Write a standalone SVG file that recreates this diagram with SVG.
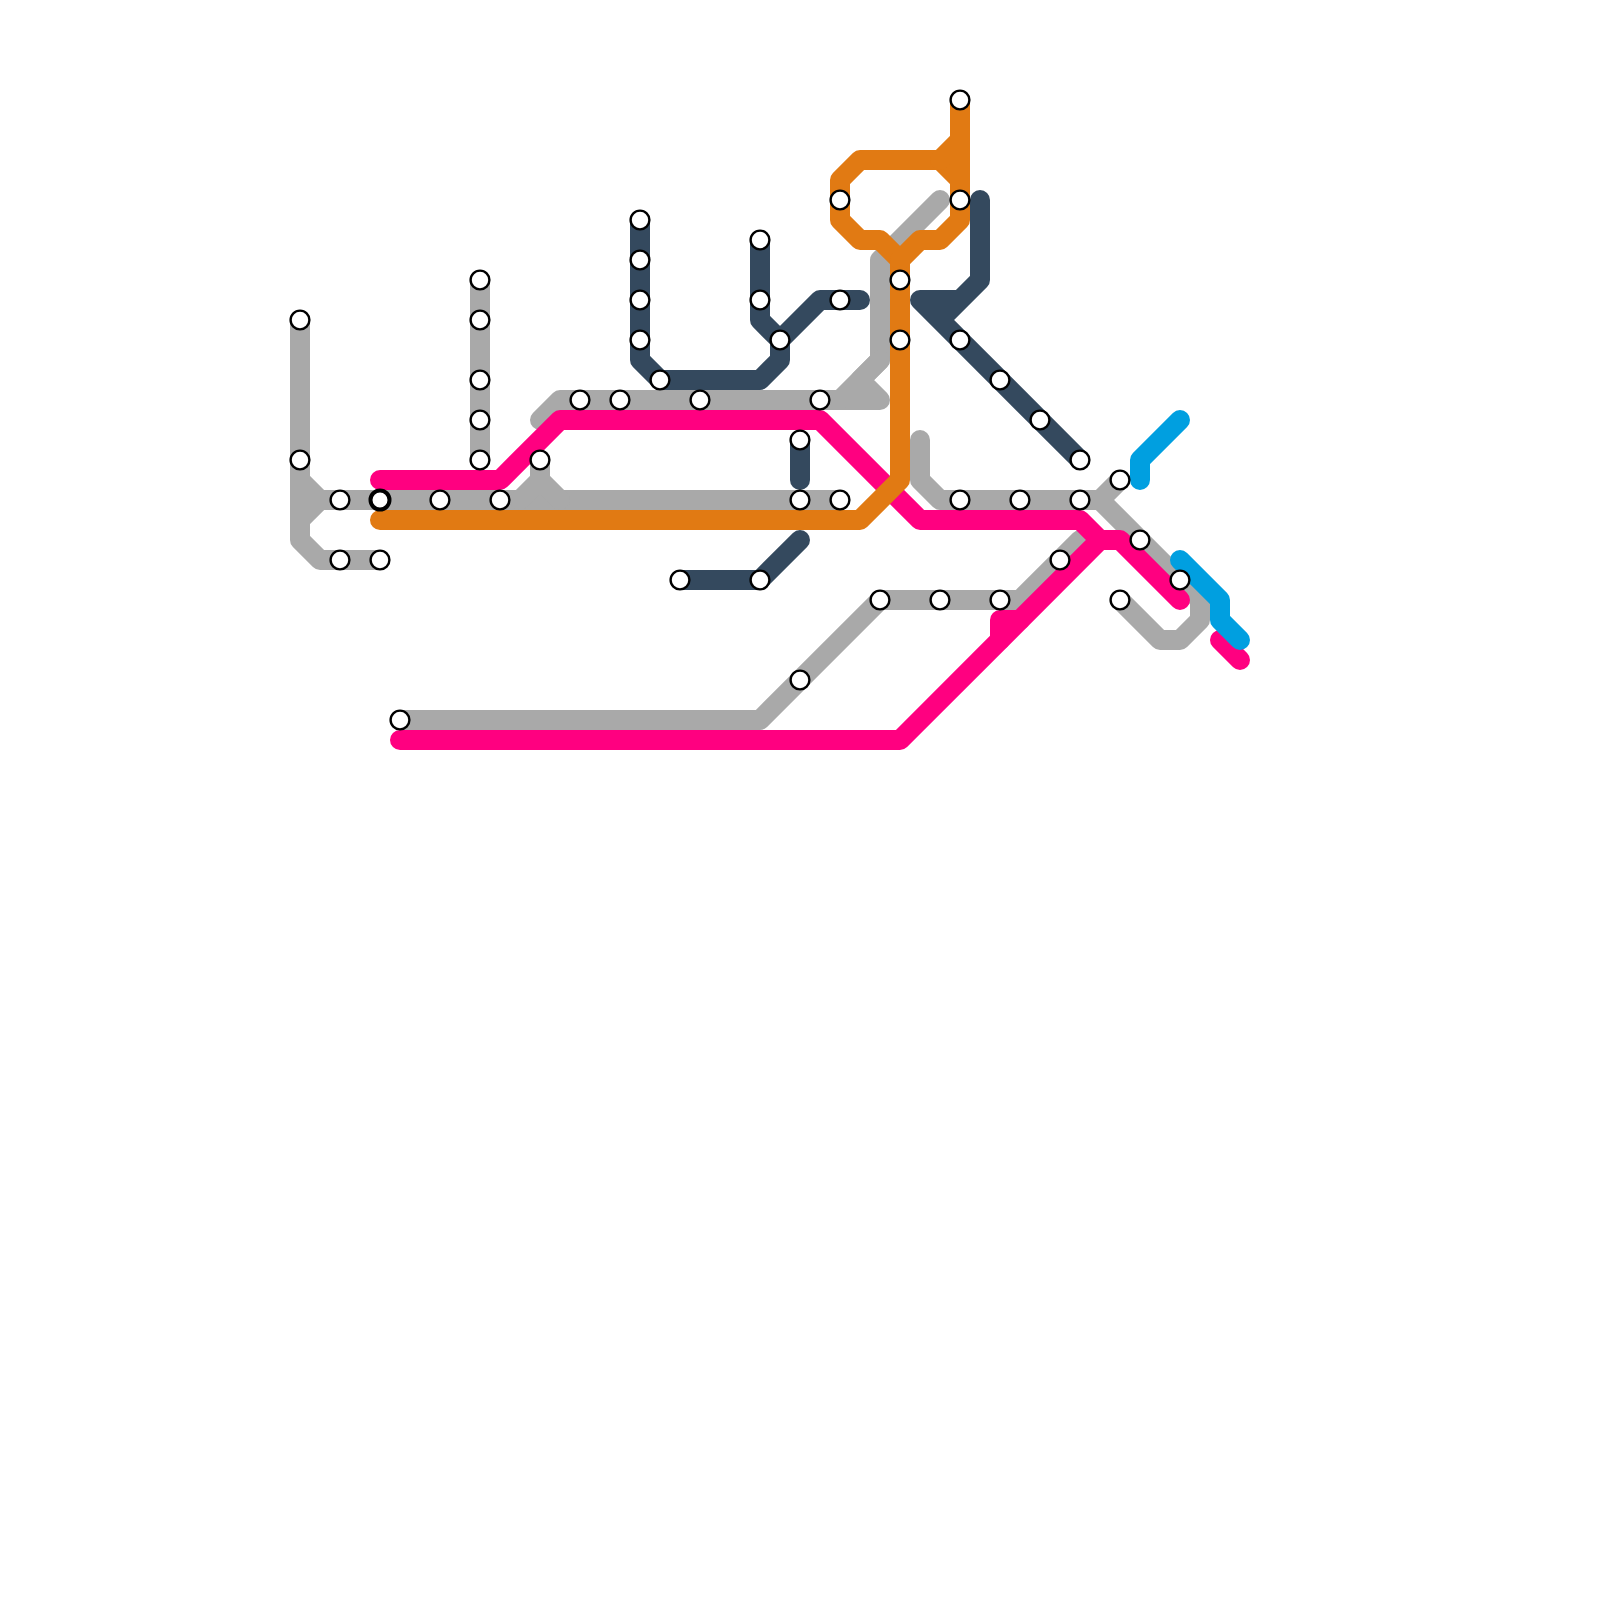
<svg xmlns="http://www.w3.org/2000/svg" width="1600" height="1600" viewBox="0 0 1600 1600">
<style>
.l{fill:none;stroke-width:20;stroke-linecap:round;stroke-linejoin:round}
.g{stroke:#a9a9a9}.n{stroke:#34495e}.p{stroke:#ff0080}.o{stroke:#e17a13}.b{stroke:#009fe0}
.s{fill:#fff;stroke:#000;stroke-width:2.4}
.t{fill:#fff;stroke:#000;stroke-width:4}
</style>
<rect width="1600" height="1600" fill="#fff"/>
<g id="connectors">
<path class="l g" d="M300 320V540L320 560H380M300 480L320 500L300 520M320 500H840"/>
<path class="l g" d="M480 280V460"/>
<path class="l g" d="M540 420L560 400H880L860 380L880 360V260L940 200"/>
<path class="l g" d="M840 400L880 360"/>
<path class="l g" d="M540 460V480L520 500M540 480L560 500"/>
<path class="l g" d="M920 440V480L940 500H1100"/>
<path class="l g" d="M1120 480L1100 500L1200 600V620L1180 640H1160L1120 600"/>
<path class="l g" d="M400 720H760L880 600H1020L1080 540"/>
<path class="l n" d="M640 220V360L660 380H760L780 360V340L760 320V240"/>
<path class="l n" d="M780 340L820 300H860"/>
<path class="l n" d="M800 440V480"/>
<path class="l n" d="M680 580H760L800 540"/>
<path class="l n" d="M980 200V280L940 320M960 300H920L1080 460"/>
<path class="l p" d="M380 480H500L560 420H820L920 520H1080L1100 540H1120L1180 600"/>
<path class="l p" d="M400 740H900L1100 540"/>
<path class="l p" d="M1000 640V620H1020"/>
<path class="l p" d="M1220 640L1240 660"/>
<path class="l o" d="M380 520H860L900 480V260L880 240H860L840 220V180L860 160H940L960 180"/>
<path class="l o" d="M960 100V220L940 240H920L900 260M960 140L940 160"/>
<path class="l b" d="M1180 420L1140 460V480"/>
<path class="l b" d="M1180 560L1220 600V620L1240 640"/>
</g>
<g id="n1"><circle class="s" cx="300" cy="320" r="9.4"/></g>
<g id="n2"><circle class="s" cx="300" cy="460" r="9.4"/></g>
<g id="n3"><circle class="s" cx="340" cy="500" r="9.4"/></g>
<g id="n4"><circle class="t" cx="380" cy="500" r="9.5"/></g>
<g id="n5"><circle class="s" cx="340" cy="560" r="9.4"/></g>
<g id="n6"><circle class="s" cx="380" cy="560" r="9.4"/></g>
<g id="n7"><circle class="s" cx="440" cy="500" r="9.4"/></g>
<g id="n8"><circle class="s" cx="500" cy="500" r="9.4"/></g>
<g id="n9"><circle class="s" cx="480" cy="280" r="9.4"/></g>
<g id="n10"><circle class="s" cx="480" cy="320" r="9.4"/></g>
<g id="n11"><circle class="s" cx="480" cy="380" r="9.4"/></g>
<g id="n12"><circle class="s" cx="480" cy="420" r="9.4"/></g>
<g id="n13"><circle class="s" cx="480" cy="460" r="9.4"/></g>
<g id="n14"><circle class="s" cx="540" cy="460" r="9.4"/></g>
<g id="n15"><circle class="s" cx="580" cy="400" r="9.4"/></g>
<g id="n16"><circle class="s" cx="620" cy="400" r="9.4"/></g>
<g id="n17"><circle class="s" cx="700" cy="400" r="9.4"/></g>
<g id="n18"><circle class="s" cx="820" cy="400" r="9.4"/></g>
<g id="n19"><circle class="s" cx="640" cy="220" r="9.4"/></g>
<g id="n20"><circle class="s" cx="640" cy="260" r="9.4"/></g>
<g id="n21"><circle class="s" cx="640" cy="300" r="9.4"/></g>
<g id="n22"><circle class="s" cx="640" cy="340" r="9.4"/></g>
<g id="n23"><circle class="s" cx="660" cy="380" r="9.4"/></g>
<g id="n24"><circle class="s" cx="760" cy="240" r="9.4"/></g>
<g id="n25"><circle class="s" cx="760" cy="300" r="9.4"/></g>
<g id="n26"><circle class="s" cx="780" cy="340" r="9.4"/></g>
<g id="n27"><circle class="s" cx="840" cy="300" r="9.4"/></g>
<g id="n28"><circle class="s" cx="800" cy="440" r="9.4"/></g>
<g id="n29"><circle class="s" cx="800" cy="500" r="9.4"/></g>
<g id="n30"><circle class="s" cx="840" cy="500" r="9.4"/></g>
<g id="n31"><circle class="s" cx="680" cy="580" r="9.4"/></g>
<g id="n32"><circle class="s" cx="760" cy="580" r="9.4"/></g>
<g id="n33"><circle class="s" cx="400" cy="720" r="9.4"/></g>
<g id="n34"><circle class="s" cx="800" cy="680" r="9.4"/></g>
<g id="n35"><circle class="s" cx="880" cy="600" r="9.4"/></g>
<g id="n36"><circle class="s" cx="940" cy="600" r="9.4"/></g>
<g id="n37"><circle class="s" cx="1000" cy="600" r="9.4"/></g>
<g id="n38"><circle class="s" cx="1060" cy="560" r="9.4"/></g>
<g id="n39"><circle class="s" cx="840" cy="200" r="9.4"/></g>
<g id="n40"><circle class="s" cx="960" cy="100" r="9.4"/></g>
<g id="n41"><circle class="s" cx="960" cy="200" r="9.4"/></g>
<g id="n42"><circle class="s" cx="900" cy="280" r="9.4"/></g>
<g id="n43"><circle class="s" cx="900" cy="340" r="9.4"/></g>
<g id="n44"><circle class="s" cx="960" cy="340" r="9.4"/></g>
<g id="n45"><circle class="s" cx="1000" cy="380" r="9.4"/></g>
<g id="n46"><circle class="s" cx="1040" cy="420" r="9.4"/></g>
<g id="n47"><circle class="s" cx="1080" cy="460" r="9.4"/></g>
<g id="n48"><circle class="s" cx="960" cy="500" r="9.4"/></g>
<g id="n49"><circle class="s" cx="1020" cy="500" r="9.4"/></g>
<g id="n50"><circle class="s" cx="1080" cy="500" r="9.4"/></g>
<g id="n51"><circle class="s" cx="1120" cy="480" r="9.4"/></g>
<g id="n52"><circle class="s" cx="1140" cy="540" r="9.4"/></g>
<g id="n53"><circle class="s" cx="1180" cy="580" r="9.4"/></g>
<g id="n54"><circle class="s" cx="1120" cy="600" r="9.4"/></g>
</svg>
